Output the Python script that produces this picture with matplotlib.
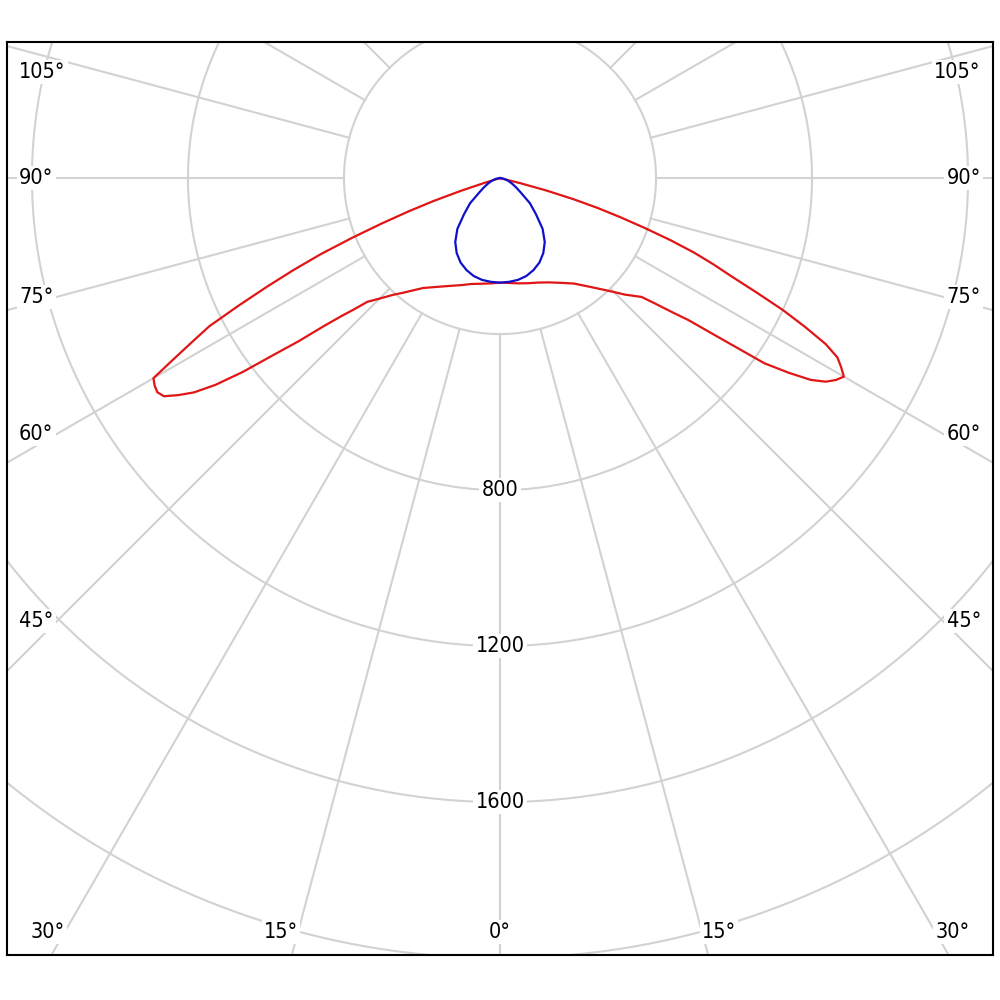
import numpy as np
import matplotlib.pyplot as plt

# luminous intensity (cd) against gamma angle (deg, 0 = straight down)
# red: C0-C180 plane, left half and right half
red_left_gamma = [0, 5, 10, 15, 20, 25, 30, 35, 40, 42.5, 45, 47, 48, 49, 50, 51, 52, 53, 54, 55,
                  56, 57, 58, 59, 60, 61, 62, 63, 64, 65, 66, 67, 68, 69, 70, 71, 72, 73, 73.8, 90]
red_left_cd = [268, 271, 275, 281, 292, 305, 322, 344, 383, 406, 437, 465, 502, 540, 592, 665, 735, 826, 902, 958,
               995, 1027, 1036, 1033, 1026, 956, 893, 836, 745, 660, 580, 500, 410, 325, 250, 180, 105, 40, 0, 0]

red_right_gamma = [0, 5, 10, 15, 20, 25, 30, 35, 40, 44, 47, 50, 51, 52, 53, 54, 55, 56, 57, 58, 59, 60,
                   61, 62, 63, 64, 65, 66, 67, 68, 69, 70, 71, 72, 73, 74, 75, 76, 77, 90]
red_right_cd = [268, 270, 274, 279, 285, 295, 310, 330, 365, 402, 438, 474, 510, 555, 605, 700, 828, 892, 950, 985, 1005, 1018,
                1000, 980, 937, 870, 800, 718, 645, 590, 533, 465, 392, 325, 262, 195, 125, 55, 0, 0]

# blue: C90-C270 plane (same on both sides)
blue_gamma = [0, 5, 10, 15, 20, 25, 30, 35, 40, 45, 50, 55, 60, 65, 70, 75, 80, 85, 90]
blue_cd = [268, 267, 265, 260, 251, 239, 222, 200, 170, 130, 100, 66, 48, 35, 25, 17, 10, 5, 0]

rings = [400, 800, 1200, 1600, 2000, 2400]
ring_labels = [800, 1200, 1600]
spokes = list(range(0, 181, 15))
angle_labels = [0, 15, 30, 45, 60, 75, 90, 105]

GRID = '#d2d2d2'
FONT = dict(family='DejaVu Sans', fontstretch='condensed', fontsize=15.5, color='black')


def to_xy(gamma, cd, side):
    g = np.radians(np.asarray(gamma, float))
    cd = np.asarray(cd, float)
    return side * cd * np.sin(g), -cd * np.cos(g)


fig = plt.figure(figsize=(10, 10), dpi=100)
ax = fig.add_axes([0.007, 0.045, 0.986, 0.913])
ax.set_xlim(-1264, 1264)
ax.set_ylim(-1992, 349)
ax.set_xticks([])
ax.set_yticks([])
for s in ax.spines.values():
    s.set_linewidth(1.5)
    s.set_color('black')

# rings
t = np.linspace(0, 2 * np.pi, 721)
for r in rings:
    ax.plot(r * np.cos(t), r * np.sin(t), color=GRID, lw=1.5, zorder=1)

# spokes start at the first ring
for a in spokes:
    for side in (-1, 1):
        x, y = to_xy([a, a], [rings[0], 4000], side)
        ax.plot(x, y, color=GRID, lw=1.5, zorder=1)

# ring value labels on the 0 deg axis
for v in ring_labels:
    ax.text(0, -v, str(v), ha='center', va='center', zorder=3,
            bbox=dict(facecolor='white', edgecolor='none', pad=1.5), **FONT)

# angle labels along the frame
side_x = 1136      # where the ray meets the inner margin
text_x = 1233      # left/right text anchor
bottom_y = -1933
top_y = 272
for a in angle_labels:
    for side in (-1, 1):
        if a == 0 and side == 1:
            continue
        g = np.radians(a)
        if a < 90 and side_x / np.tan(g if a else 1e-9) > -bottom_y:
            # ray reaches the bottom margin first
            x = side * (-bottom_y) * np.tan(g)
            ha = 'center' if a == 0 else ('right' if side < 0 else 'left')
            ax.text(x, bottom_y, f'{a}°', ha=ha, va='center', zorder=3,
                    bbox=dict(facecolor='white', edgecolor='none', pad=1.5), **FONT)
        else:
            y = -side_x / np.tan(g) if a != 90 else 0
            y = min(y, top_y)
            ha = 'left' if side < 0 else 'right'
            ax.text(side * text_x, y, f'{a}°', ha=ha, va='center', zorder=3,
                    bbox=dict(facecolor='white', edgecolor='none', pad=1.5), **FONT)

# curves
xl, yl = to_xy(red_left_gamma[::-1], red_left_cd[::-1], -1)
xr, yr = to_xy(red_right_gamma, red_right_cd, 1)
ax.plot(np.r_[xl, xr], np.r_[yl, yr], color='#e01515', lw=1.6, zorder=4)

xl, yl = to_xy(blue_gamma[::-1], blue_cd[::-1], -1)
xr, yr = to_xy(blue_gamma, blue_cd, 1)
ax.plot(np.r_[xl, xr], np.r_[yl, yr], color='#1010cc', lw=1.6, zorder=5)

fig.savefig('out.png', dpi=100, facecolor='white')
